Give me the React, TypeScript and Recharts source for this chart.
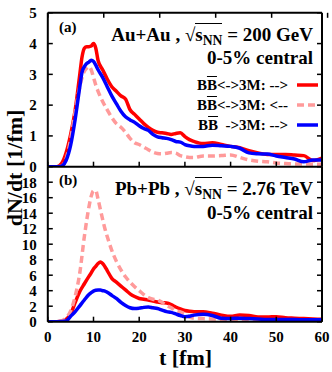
import { Legend, Line, LineChart, XAxis, YAxis } from "recharts";

// (a) Au+Au 200 GeV
const timesAu = [0, 2, 3, 4, 5, 6, 7, 7.5, 8, 8.5, 9, 9.5, 10, 10.5, 11, 12, 13, 14, 15, 16, 17, 18, 19, 20, 21, 22, 23, 24, 25, 26, 27, 28, 29, 30, 31, 32, 34, 36, 38, 40, 42, 44, 46, 48, 50, 52, 54, 56, 58, 60];
const redAu = [0, 0, 0.1, 0.45, 1.05, 1.85, 3.0, 3.57, 3.85, 3.9, 3.9, 3.92, 4.0, 3.85, 3.45, 3.15, 2.85, 2.6, 2.45, 2.3, 2.2, 1.85, 1.7, 1.55, 1.4, 1.28, 1.18, 1.12, 1.1, 1.08, 1.05, 1.08, 1.1, 0.98, 0.88, 0.82, 0.75, 0.78, 0.72, 0.66, 0.62, 0.52, 0.45, 0.4, 0.4, 0.4, 0.38, 0.36, 0.2, 0.28];
const pinkAu = [0, 0, 0.02, 0.25, 0.9, 1.8, 2.6, 2.9, 3.1, 3.2, 3.25, 3.15, 2.9, 2.65, 2.45, 2.12, 1.85, 1.6, 1.4, 1.28, 1.12, 0.92, 0.78, 0.72, 0.64, 0.55, 0.47, 0.43, 0.42, 0.44, 0.46, 0.44, 0.36, 0.32, 0.3, 0.3, 0.35, 0.35, 0.36, 0.38, 0.3, 0.22, 0.18, 0.16, 0.12, 0.1, 0.09, 0.09, 0.08, 0.08];
const blueAu = [0, 0, 0.02, 0.2, 0.7, 1.55, 2.6, 3.08, 3.25, 3.35, 3.4, 3.46, 3.42, 3.3, 3.15, 2.9, 2.6, 2.3, 2.05, 1.8, 1.62, 1.52, 1.44, 1.33, 1.24, 1.18, 1.05, 0.97, 0.94, 0.92, 0.88, 0.82, 0.8, 0.72, 0.68, 0.66, 0.66, 0.7, 0.68, 0.66, 0.6, 0.45, 0.42, 0.41, 0.35, 0.3, 0.25, 0.16, 0.22, 0.22];

// (b) Pb+Pb 2.76 TeV
const timesPb = [0, 2, 3, 4, 5, 6, 7, 8, 9, 9.5, 10, 10.5, 11, 11.5, 12, 12.5, 13, 14, 15, 16, 17, 18, 19, 20, 21, 22, 23, 24, 25, 26, 27, 28, 29, 30, 31, 32, 34, 36, 38, 40, 42, 44, 46, 48, 50, 52, 54, 56, 58, 60];
const redPb = [0, 0, 0.05, 0.3, 1.0, 2.5, 3.9, 4.9, 5.85, 6.3, 6.8, 7.15, 7.5, 7.7, 7.5, 7.1, 6.6, 5.6, 5.1, 4.6, 4.1, 3.6, 3.25, 3.0, 2.9, 2.8, 2.65, 2.55, 2.45, 2.4, 2.2, 1.9, 1.65, 1.45, 1.35, 1.3, 1.3, 1.1, 0.85, 0.7, 0.85, 0.8, 0.6, 0.6, 0.65, 0.5, 0.45, 0.4, 0.35, 0.3];
const pinkPb = [0, 0, 0.1, 0.5, 1.4, 3.3, 6.3, 11.0, 14.8, 16.2, 16.9, 16.9, 15.8, 14.5, 13.2, 12.0, 11.0, 9.2, 7.8, 6.7, 5.8, 5.1, 4.5, 4.0, 3.5, 3.1, 2.9, 2.8, 2.5, 2.1, 1.8, 1.4, 1.25, 1.0, 0.6, 0.45, 0.4, 0.35, 0.3, 0.28, 0.25, 0.22, 0.2, 0.2, 0.18, 0.18, 0.18, 0.18, 0.18, 0.18];
const bluePb = [0, 0, 0.02, 0.1, 0.7, 1.3, 2.05, 2.8, 3.5, 3.75, 3.95, 4.05, 4.1, 4.1, 4.0, 3.95, 3.8, 3.4, 3.0, 2.5, 2.1, 1.8, 1.7, 1.75, 1.85, 1.9, 1.8, 1.7, 1.5, 1.3, 1.2, 1.0, 0.8, 0.65, 0.7, 0.85, 0.95, 0.8, 0.45, 0.42, 0.45, 0.4, 0.35, 0.3, 0.3, 0.3, 0.28, 0.26, 0.25, 0.25];

const xTicks = [0, 10, 20, 30, 40, 50, 60];
const yTicksAu = [0, 1, 2, 3, 4, 5];
const yTicksPb = [0, 2, 4, 6, 8, 10, 12, 14, 16, 18];

const series = [
  { key: "red", name: "BB<->3M: -->", color: "#ff0000", dash: undefined },
  { key: "pink", name: "BB<->3M: <--", color: "#ff9a9a", dash: "7 4" },
  { key: "blue", name: "BB ->3M: -->", color: "#0000ff", dash: undefined },
];

const rows = (t: number[], r: number[], p: number[], b: number[]) =>
  t.map((v, i) => ({ t: v, red: r[i], pink: p[i], blue: b[i] }));

const dataAu = rows(timesAu, redAu, pinkAu, blueAu);
const dataPb = rows(timesPb, redPb, pinkPb, bluePb);

const serif = "'Liberation Serif', 'DejaVu Serif', serif";
const tickStyle = { fontSize: 15, fontWeight: 700, fill: "#000", fontFamily: serif };
const frame = { stroke: "#000", strokeWidth: 2 };
const tickLn = { stroke: "#000", strokeWidth: 1.5 };
const blank = () => "";

const W = 332;
const H = 372;
const PLOT_L = 47.8;

function LegendBox() {
  const labels = [
    <>B<span style={{ textDecoration: "overline" }}>B</span>&lt;-&gt;3M: --&gt;</>,
    <>B<span style={{ textDecoration: "overline" }}>B</span>&lt;-&gt;3M: &lt;--</>,
    <>B<span style={{ textDecoration: "overline" }}>B</span>&nbsp; -&gt;3M: --&gt;</>,
  ];
  return (
    <div style={{ fontFamily: serif, fontWeight: 700, fontSize: 15, color: "#000" }}>
      {series.map((s, i) => (
        <div
          key={s.key}
          style={{ height: 20, lineHeight: "20px", display: "flex", alignItems: "center", justifyContent: "flex-end" }}
        >
          <span style={{ whiteSpace: "nowrap" }}>{labels[i]}</span>
          <svg width={21} height={6} style={{ marginLeft: 9 }}>
            <line x1={0} y1={3} x2={21} y2={3} stroke={s.color} strokeWidth={3.5} strokeDasharray={s.dash} />
          </svg>
        </div>
      ))}
    </div>
  );
}

function Panel({
  data,
  yMax,
  yTicks,
  top,
  bottom,
  isTop,
}: {
  data: { t: number }[];
  yMax: number;
  yTicks: number[];
  top: number;
  bottom: number;
  isTop: boolean;
}) {
  // axes get 1px of room each; margins are reduced by the same amount
  return (
    <div style={{ position: "absolute", left: 0, top: 0 }}>
      <LineChart
        width={W}
        height={H}
        data={data}
        margin={{ top: isTop ? top - 1 : top, right: 9, bottom: bottom - 1, left: PLOT_L - 1 }}
      >
        <XAxis
          dataKey="t"
          type="number"
          domain={[0, 60]}
          ticks={xTicks}
          interval={0}
          allowDataOverflow
          height={1}
          axisLine={frame}
          tickLine={tickLn}
          tickSize={-5}
          tickMargin={15}
          tick={tickStyle}
          tickFormatter={isTop ? blank : undefined}
        />
        {isTop && (
          <XAxis
            xAxisId="top"
            orientation="top"
            type="number"
            domain={[0, 60]}
            ticks={xTicks}
            interval={0}
            allowDataOverflow
            height={1}
            axisLine={frame}
            tickLine={tickLn}
            tickSize={-5}
            tickFormatter={blank}
          />
        )}
        <YAxis
          type="number"
          domain={[0, yMax]}
          ticks={yTicks}
          interval={0}
          allowDataOverflow
          width={1}
          axisLine={frame}
          tickLine={tickLn}
          tickSize={-5}
          tickMargin={16}
          tick={tickStyle}
        />
        <YAxis
          yAxisId="r"
          orientation="right"
          type="number"
          domain={[0, yMax]}
          ticks={yTicks}
          interval={0}
          allowDataOverflow
          width={1}
          axisLine={frame}
          tickLine={tickLn}
          tickSize={-5}
          tickFormatter={blank}
        />
        {isTop && (
          <Legend
            layout="vertical"
            align="center"
            verticalAlign="middle"
            content={() => <LegendBox />}
            wrapperStyle={{ left: 0, top: 75, width: 318 }}
          />
        )}
        {series.map((s) => (
          <Line
            key={s.key}
            type="monotone"
            dataKey={s.key}
            name={s.name}
            stroke={s.color}
            strokeWidth={3.5}
            strokeDasharray={s.dash}
            dot={false}
            activeDot={false}
            isAnimationActive={false}
          />
        ))}
      </LineChart>
    </div>
  );
}

const titleStyle = {
  position: "absolute" as const,
  right: 19,
  fontFamily: serif,
  fontWeight: 700,
  fontSize: 19,
  lineHeight: "19px",
  whiteSpace: "nowrap" as const,
  color: "#000",
};

const tagStyle = {
  position: "absolute" as const,
  left: 59,
  fontFamily: serif,
  fontWeight: 700,
  fontSize: 15,
  lineHeight: "15px",
  color: "#000",
};

function Sqrt() {
  return (
    <>
      √
      <span style={{ borderTop: "1.5px solid #000" }}>
        s<span style={{ fontSize: "0.72em", verticalAlign: "-4px" }}>NN</span>
      </span>
    </>
  );
}

export default function App() {
  return (
    <div style={{ position: "absolute", left: 0, top: 0, width: W, height: H, background: "#fff", overflow: "hidden" }}>
      <Panel data={dataAu} yMax={5} yTicks={yTicksAu} top={12.8} bottom={H - 166.7} isTop />
      <Panel data={dataPb} yMax={20} yTicks={yTicksPb} top={166.7} bottom={H - 321.7} isTop={false} />

      <div style={{ ...tagStyle, top: 20.4 }}>(a)</div>
      <div style={{ ...tagStyle, top: 173.4 }}>(b)</div>

      <div style={{ ...titleStyle, top: 25.1 }}>
        Au+Au , <Sqrt /> = 200 GeV
      </div>
      <div style={{ ...titleStyle, top: 48.4 }}>0-5% central</div>
      <div style={{ ...titleStyle, top: 179.1 }}>
        Pb+Pb , <Sqrt /> = 2.76 TeV
      </div>
      <div style={{ ...titleStyle, top: 203.4 }}>0-5% central</div>

      <div
        style={{
          position: "absolute",
          left: 15,
          top: 168,
          transform: "translate(-50%, -50%) rotate(-90deg)",
          fontFamily: serif,
          fontWeight: 700,
          fontSize: 22,
          lineHeight: "22px",
          whiteSpace: "nowrap",
          color: "#000",
        }}
      >
        dN/dt [1/fm]
      </div>
      <div
        style={{
          position: "absolute",
          left: 185.5,
          top: 351.6,
          transform: "translateX(-50%)",
          fontFamily: serif,
          fontWeight: 700,
          fontSize: 22,
          lineHeight: "12px",
          whiteSpace: "nowrap",
          color: "#000",
        }}
      >
        t [fm]
      </div>
    </div>
  );
}
